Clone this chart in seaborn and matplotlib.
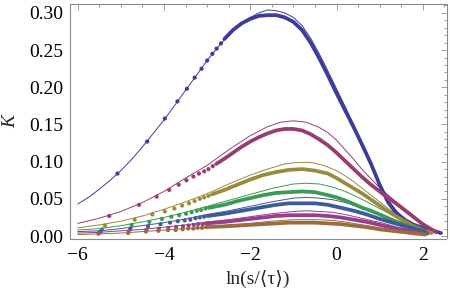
import matplotlib
matplotlib.use("Agg")
import matplotlib.pyplot as plt
import seaborn as sns
import pandas as pd
from matplotlib.ticker import MultipleLocator, FormatStrFormatter

# ---------------- data ----------------
names = ["s1", "s2", "s3", "s4", "s5", "s6", "s7"]
colors = ["#3D3D99", "#993D71", "#998B3D", "#3D9956", "#3D5A99", "#993D8F", "#996D3D"]

# series 1 (blue)
s1_fit_x = [-6.0, -5.75, -5.5, -5.25, -5.0, -4.75, -4.5, -4.25, -4.0, -3.75, -3.5, -3.25, -3.0, -2.75, -2.5, -2.25, -2.0, -1.8, -1.6, -1.4, -1.2, -1.0, -0.8, -0.6, -0.4, -0.2, 0.0, 0.2, 0.4, 0.6, 0.8, 1.0, 1.2, 1.4, 1.6, 1.8, 2.0, 2.2, 2.45]
s1_fit_y = [0.043, 0.052, 0.063, 0.075, 0.088, 0.103, 0.120, 0.138, 0.156, 0.176, 0.196, 0.216, 0.236, 0.254, 0.270, 0.283, 0.294, 0.300, 0.304, 0.303, 0.300, 0.294, 0.283, 0.266, 0.245, 0.222, 0.198, 0.174, 0.149, 0.124, 0.098, 0.071, 0.048, 0.033, 0.023, 0.016, 0.011, 0.008, 0.004]
s1_dot_x = [-5.08, -4.39, -3.98, -3.69, -3.47, -3.29, -3.13, -3.00, -2.88, -2.78, -2.68]
s1_dot_y = [0.084, 0.127, 0.158, 0.181, 0.198, 0.213, 0.225, 0.236, 0.245, 0.252, 0.259]
s1_band_x = [-2.6, -2.4, -2.2, -2.0, -1.8, -1.6, -1.4, -1.2, -1.0, -0.8, -0.6, -0.4, -0.2, 0.0, 0.2, 0.4, 0.6, 0.8, 1.0, 1.2, 1.4, 1.6, 1.8, 2.0, 2.2, 2.42]
s1_band_y = [0.265, 0.277, 0.286, 0.292, 0.296, 0.297, 0.297, 0.294, 0.288, 0.277, 0.260, 0.239, 0.216, 0.192, 0.169, 0.146, 0.122, 0.097, 0.069, 0.045, 0.030, 0.021, 0.015, 0.011, 0.008, 0.004]

# series 2 (maroon)
s2_fit_x = [-6.0, -5.5, -5.0, -4.5, -4.0, -3.5, -3.0, -2.5, -2.0, -1.6, -1.3, -1.0, -0.7, -0.4, -0.2, 0.0, 0.2, 0.4, 0.6, 0.8, 1.0, 1.2, 1.4, 1.6, 1.8, 2.0, 2.2, 2.3]
s2_fit_y = [0.017, 0.024, 0.033, 0.045, 0.060, 0.078, 0.095, 0.116, 0.135, 0.147, 0.153, 0.155, 0.153, 0.146, 0.139, 0.129, 0.116, 0.103, 0.089, 0.077, 0.065, 0.055, 0.045, 0.036, 0.027, 0.017, 0.010, 0.006]
s2_dot_x = [-5.27, -4.58, -4.17, -3.88, -3.66, -3.48, -3.32, -3.19, -3.07, -2.97, -2.87]
s2_dot_y = [0.027, 0.042, 0.053, 0.062, 0.069, 0.075, 0.080, 0.084, 0.087, 0.090, 0.094]
s2_band_x = [-2.79, -2.6, -2.4, -2.2, -2.0, -1.8, -1.6, -1.4, -1.2, -1.0, -0.8, -0.6, -0.4, -0.2, 0.0, 0.2, 0.4, 0.6, 0.8, 1.0, 1.2, 1.4, 1.6, 1.8, 2.0, 2.2, 2.32]
s2_band_y = [0.097, 0.104, 0.112, 0.120, 0.127, 0.133, 0.138, 0.142, 0.144, 0.144, 0.142, 0.137, 0.130, 0.122, 0.112, 0.101, 0.090, 0.079, 0.069, 0.060, 0.051, 0.043, 0.034, 0.025, 0.016, 0.009, 0.005]

# series 3 (olive)
s3_fit_x = [-6.0, -5.5, -5.0, -4.5, -4.0, -3.5, -3.0, -2.5, -2.0, -1.6, -1.2, -0.9, -0.6, -0.3, 0.0, 0.2, 0.4, 0.6, 0.8, 1.0, 1.2, 1.4, 1.6, 1.8, 2.0, 2.2]
s3_fit_y = [0.011, 0.015, 0.020, 0.027, 0.036, 0.046, 0.057, 0.070, 0.082, 0.090, 0.097, 0.099, 0.099, 0.095, 0.088, 0.081, 0.073, 0.064, 0.055, 0.046, 0.037, 0.029, 0.022, 0.015, 0.009, 0.005]
s3_dot_x = [-5.37, -4.68, -4.27, -3.98, -3.76, -3.58, -3.42, -3.29, -3.17, -3.07, -2.97]
s3_dot_y = [0.014, 0.022, 0.029, 0.033, 0.037, 0.041, 0.044, 0.047, 0.050, 0.052, 0.054]
s3_band_x = [-2.89, -2.6, -2.3, -2.0, -1.7, -1.4, -1.1, -0.8, -0.5, -0.2, 0.0, 0.2, 0.4, 0.6, 0.8, 1.0, 1.2, 1.4, 1.6, 1.8, 2.0, 2.2]
s3_band_y = [0.056, 0.062, 0.069, 0.076, 0.082, 0.086, 0.089, 0.090, 0.088, 0.084, 0.078, 0.071, 0.064, 0.057, 0.049, 0.041, 0.033, 0.026, 0.019, 0.013, 0.008, 0.004]

# series 4 (green)
s4_fit_x = [-6.0, -5.5, -5.0, -4.5, -4.0, -3.5, -3.0, -2.5, -2.0, -1.5, -1.0, -0.7, -0.4, -0.1, 0.2, 0.5, 0.8, 1.1, 1.4, 1.7, 2.0, 2.1]
s4_fit_y = [0.008, 0.010, 0.014, 0.019, 0.025, 0.032, 0.040, 0.048, 0.056, 0.064, 0.070, 0.071, 0.070, 0.066, 0.060, 0.052, 0.043, 0.034, 0.025, 0.016, 0.009, 0.006]
s4_dot_x = [-5.44, -4.75, -4.34, -4.05, -3.83, -3.65, -3.49, -3.36, -3.24, -3.14, -3.04]
s4_dot_y = [0.009, 0.015, 0.019, 0.023, 0.026, 0.028, 0.030, 0.032, 0.034, 0.035, 0.037]
s4_band_x = [-2.96, -2.6, -2.3, -2.0, -1.7, -1.4, -1.1, -0.8, -0.5, -0.2, 0.0, 0.2, 0.4, 0.6, 0.8, 1.0, 1.2, 1.4, 1.6, 1.8, 2.0, 2.1]
s4_band_y = [0.038, 0.042, 0.047, 0.051, 0.055, 0.058, 0.059, 0.060, 0.059, 0.055, 0.052, 0.048, 0.043, 0.038, 0.034, 0.029, 0.024, 0.019, 0.015, 0.011, 0.007, 0.005]

# series 5 (steel blue)
s5_fit_x = [-6.0, -5.5, -5.0, -4.5, -4.0, -3.5, -3.0, -2.5, -2.0, -1.5, -1.0, -0.7, -0.4, -0.1, 0.2, 0.5, 0.8, 1.1, 1.4, 1.7, 2.0, 2.1]
s5_fit_y = [0.006, 0.007, 0.010, 0.014, 0.018, 0.023, 0.029, 0.034, 0.040, 0.046, 0.051, 0.052, 0.051, 0.049, 0.045, 0.040, 0.033, 0.026, 0.019, 0.013, 0.008, 0.006]
s5_dot_x = [-5.47, -4.78, -4.37, -4.08, -3.86, -3.68, -3.52, -3.39, -3.27, -3.17, -3.07]
s5_dot_y = [0.006, 0.010, 0.013, 0.016, 0.018, 0.020, 0.021, 0.022, 0.024, 0.025, 0.026]
s5_band_x = [-2.99, -2.6, -2.3, -2.0, -1.7, -1.4, -1.1, -0.8, -0.5, -0.2, 0.1, 0.4, 0.7, 1.0, 1.3, 1.6, 1.9, 2.05]
s5_band_y = [0.027, 0.030, 0.033, 0.036, 0.039, 0.042, 0.044, 0.044, 0.044, 0.042, 0.038, 0.034, 0.029, 0.023, 0.018, 0.013, 0.008, 0.006]

# series 6 (purple)
s6_fit_x = [-6.0, -5.5, -5.0, -4.5, -4.0, -3.5, -3.0, -2.5, -2.0, -1.5, -1.0, -0.7, -0.4, -0.1, 0.2, 0.5, 0.8, 1.1, 1.4, 1.7, 2.0, 2.15]
s6_fit_y = [0.004, 0.005, 0.007, 0.009, 0.012, 0.015, 0.019, 0.022, 0.026, 0.030, 0.033, 0.034, 0.033, 0.032, 0.029, 0.025, 0.021, 0.017, 0.012, 0.008, 0.005, 0.003]
s6_dot_x = [-5.51, -4.82, -4.41, -4.12, -3.90, -3.72, -3.56, -3.43, -3.31, -3.21, -3.11]
s6_dot_y = [0.004, 0.006, 0.008, 0.010, 0.011, 0.012, 0.013, 0.014, 0.015, 0.016, 0.016]
s6_band_x = [-3.03, -2.6, -2.3, -2.0, -1.7, -1.4, -1.1, -0.8, -0.5, -0.2, 0.1, 0.4, 0.7, 1.0, 1.3, 1.6, 1.9, 2.1]
s6_band_y = [0.017, 0.019, 0.021, 0.023, 0.025, 0.027, 0.028, 0.028, 0.028, 0.027, 0.025, 0.022, 0.019, 0.015, 0.011, 0.008, 0.005, 0.003]

# series 7 (brown)
s7_fit_x = [-6.0, -5.5, -5.0, -4.5, -4.0, -3.5, -3.0, -2.5, -2.0, -1.5, -1.0, -0.7, -0.4, -0.1, 0.2, 0.5, 0.8, 1.1, 1.4, 1.7, 2.0]
s7_fit_y = [0.002, 0.003, 0.004, 0.006, 0.008, 0.010, 0.012, 0.015, 0.017, 0.020, 0.022, 0.022, 0.022, 0.021, 0.019, 0.016, 0.013, 0.010, 0.007, 0.005, 0.003]
s7_dot_x = [-5.52, -4.83, -4.42, -4.13, -3.91, -3.73, -3.57, -3.44, -3.32, -3.22, -3.12]
s7_dot_y = [0.003, 0.004, 0.006, 0.007, 0.008, 0.008, 0.009, 0.010, 0.010, 0.011, 0.011]
s7_band_x = [-3.04, -2.6, -2.3, -2.0, -1.7, -1.4, -1.1, -0.8, -0.5, -0.2, 0.1, 0.4, 0.7, 1.0, 1.3, 1.6, 1.9, 2.05]
s7_band_y = [0.012, 0.013, 0.014, 0.015, 0.016, 0.017, 0.018, 0.018, 0.018, 0.017, 0.016, 0.014, 0.012, 0.009, 0.007, 0.005, 0.003, 0.002]

x_ticks = [-6, -4, -2, 0, 2]
y_ticks = [0.00, 0.05, 0.10, 0.15, 0.20, 0.25, 0.30]
x_label = "ln(s/\u27e8\u03c4\u27e9)"
y_label = "K"

# ---------------- assemble tables ----------------
fits = [(s1_fit_x, s1_fit_y), (s2_fit_x, s2_fit_y), (s3_fit_x, s3_fit_y), (s4_fit_x, s4_fit_y),
        (s5_fit_x, s5_fit_y), (s6_fit_x, s6_fit_y), (s7_fit_x, s7_fit_y)]
dots = [(s1_dot_x, s1_dot_y), (s2_dot_x, s2_dot_y), (s3_dot_x, s3_dot_y), (s4_dot_x, s4_dot_y),
        (s5_dot_x, s5_dot_y), (s6_dot_x, s6_dot_y), (s7_dot_x, s7_dot_y)]
bands = [(s1_band_x, s1_band_y), (s2_band_x, s2_band_y), (s3_band_x, s3_band_y), (s4_band_x, s4_band_y),
         (s5_band_x, s5_band_y), (s6_band_x, s6_band_y), (s7_band_x, s7_band_y)]

def long_table(pairs):
    return pd.concat([pd.DataFrame({"x": px, "y": py, "series": n}) for n, (px, py) in zip(names, pairs)],
                     ignore_index=True)

fit_df = long_table(fits)
dot_df = long_table(dots)
band_df = long_table(bands)
palette = dict(zip(names, colors))

# ---------------- style ----------------
sns.set_style("white")
plt.rcParams["font.family"] = ["Liberation Serif", "DejaVu Serif", "DejaVu Sans"]
plt.rcParams["font.size"] = 14

fig = plt.figure(figsize=(4.5, 2.91), dpi=100)
ax = fig.add_axes([70 / 450, 1 - 238.5 / 291, (446.5 - 70) / 450, (238.5 - 4) / 291])

sns.lineplot(data=fit_df, x="x", y="y", hue="series", palette=palette, units="series",
             estimator=None, sort=False, linewidth=0.7, legend=False, ax=ax)
sns.lineplot(data=band_df, x="x", y="y", hue="series", palette=palette, units="series",
             estimator=None, sort=False, linewidth=2.7, solid_capstyle="round",
             solid_joinstyle="round", legend=False, ax=ax)
sns.scatterplot(data=dot_df, x="x", y="y", hue="series", palette=palette, s=9,
                linewidth=0, legend=False, ax=ax)

ax.set_xlim(-6.18, 2.55)
ax.set_ylim(-0.0033, 0.312)
ax.set_xticks(x_ticks)
ax.set_yticks(y_ticks)
ax.xaxis.set_minor_locator(MultipleLocator(0.5))
ax.yaxis.set_minor_locator(MultipleLocator(0.01))
ax.yaxis.set_major_formatter(FormatStrFormatter("%.2f"))

frame_col = "#8a8a8a"
for sp in ax.spines.values():
    sp.set_color(frame_col)
    sp.set_linewidth(0.8)
ax.tick_params(which="both", direction="in", top=True, right=True, color=frame_col,
               labelcolor="black", labelsize=14, width=0.6)
ax.tick_params(which="major", length=4)
ax.tick_params(which="minor", length=2.3)
ax.tick_params(axis="x", pad=6)
ax.tick_params(axis="y", pad=5)

ax.set_xlabel(x_label, fontsize=14)
ax.xaxis.set_label_coords(0.5, -0.172)
ax.xaxis.label.set_va("center")
ax.set_ylabel(y_label, fontsize=14, style="italic")
ax.yaxis.set_label_coords(-0.158, 0.5)
ax.yaxis.label.set_va("center")

fig.savefig("out.png", dpi=100)
